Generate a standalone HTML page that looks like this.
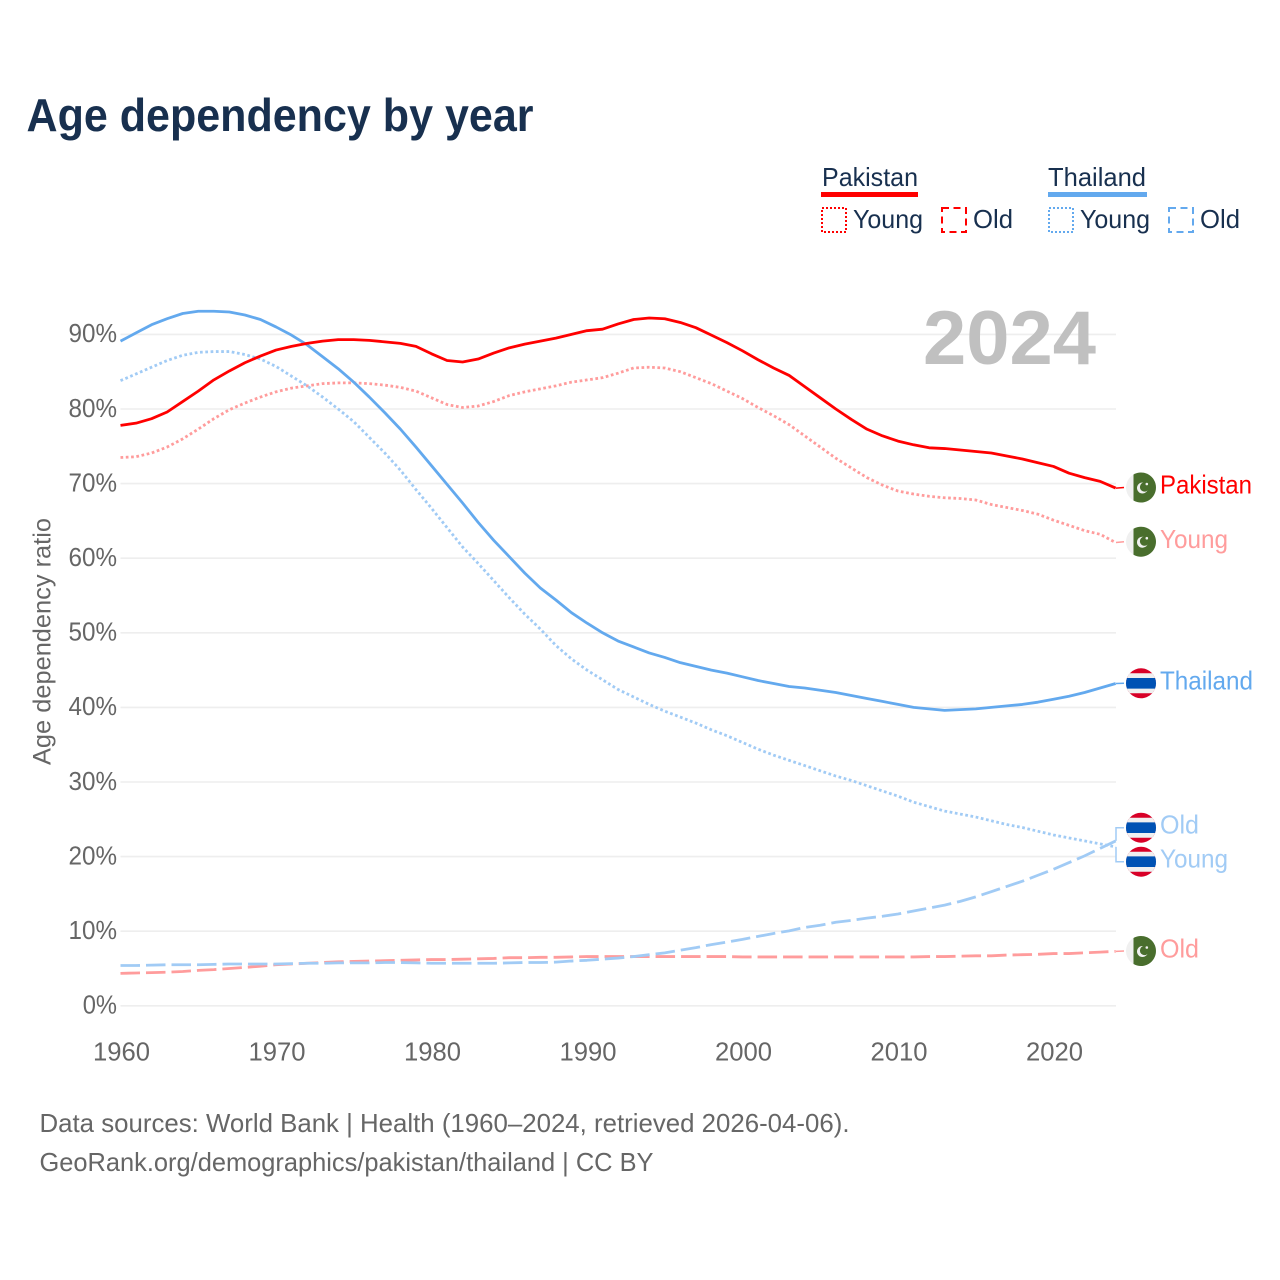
<!DOCTYPE html>
<html lang="en">
<head>
<meta charset="utf-8">
<title>Age dependency by year</title>
<style>
html,body{margin:0;padding:0;background:#fff;}
svg{display:block;}
text{font-family:"Liberation Sans",sans-serif;}
</style>
</head>
<body>
<svg id="chart" xmlns="http://www.w3.org/2000/svg" width="1280" height="1280" viewBox="0 0 1280 1280">
  <rect width="1280" height="1280" fill="#ffffff"/>
  <text x="26.5" y="131" font-size="46" font-weight="700" fill="#18304f" textLength="507" lengthAdjust="spacingAndGlyphs">Age dependency by year</text>

  <g>
    <text x="822" y="186" font-size="26" fill="#18304f" textLength="96" lengthAdjust="spacingAndGlyphs">Pakistan</text>
    <rect x="821" y="192" width="97" height="5" fill="#ff0000"/>
    <rect x="822" y="208" width="24" height="24" fill="none" stroke="#ff0000" stroke-width="2" stroke-dasharray="2 2"/>
    <text x="853" y="228" font-size="26" fill="#18304f" textLength="70" lengthAdjust="spacingAndGlyphs">Young</text>
    <rect x="942" y="208" width="24" height="24" fill="none" stroke="#ff0000" stroke-width="2" stroke-dasharray="7 4.5"/>
    <text x="973" y="228" font-size="26" fill="#18304f" textLength="40" lengthAdjust="spacingAndGlyphs">Old</text>

    <text x="1048" y="186" font-size="26" fill="#18304f" textLength="98" lengthAdjust="spacingAndGlyphs">Thailand</text>
    <rect x="1048" y="192" width="99" height="5" fill="#63a9ee"/>
    <rect x="1049" y="208" width="24" height="24" fill="none" stroke="#63a9ee" stroke-width="2" stroke-dasharray="2 2"/>
    <text x="1080" y="228" font-size="26" fill="#18304f" textLength="70" lengthAdjust="spacingAndGlyphs">Young</text>
    <rect x="1169" y="208" width="24" height="24" fill="none" stroke="#63a9ee" stroke-width="2" stroke-dasharray="7 4.5"/>
    <text x="1200" y="228" font-size="26" fill="#18304f" textLength="40" lengthAdjust="spacingAndGlyphs">Old</text>
  </g>

  <g id="grid"></g>
  <g id="yticks"></g>
  <g id="xticks"></g>
  <text transform="translate(50.5,765) rotate(-90)" font-size="25" fill="#666666" textLength="247" lengthAdjust="spacingAndGlyphs">Age dependency ratio</text>
  <text x="923" y="364" font-size="76" font-weight="700" fill="#c0c0c0" textLength="173" lengthAdjust="spacingAndGlyphs">2024</text>

  <g id="series"></g>
  <g id="connectors"></g>

  <g transform="translate(1141,487.5)">
    <circle r="15" fill="#f0f0f0"/><path d="M-7.5,-13 A15,15 0 1 1 -7.5,13 Z" fill="#496e2d"/>
    <circle cx="1.5" cy="0.5" r="5.5" fill="#f0f0f0"/><circle cx="3.5" cy="-0.5" r="4.6" fill="#496e2d"/><circle cx="5.8" cy="-3.5" r="1.3" fill="#f0f0f0"/>
  </g>
  <g transform="translate(1141,541.7)">
    <circle r="15" fill="#f0f0f0"/><path d="M-7.5,-13 A15,15 0 1 1 -7.5,13 Z" fill="#496e2d"/>
    <circle cx="1.5" cy="0.5" r="5.5" fill="#f0f0f0"/><circle cx="3.5" cy="-0.5" r="4.6" fill="#496e2d"/><circle cx="5.8" cy="-3.5" r="1.3" fill="#f0f0f0"/>
  </g>
  <g transform="translate(1141,951)">
    <circle r="15" fill="#f0f0f0"/><path d="M-7.5,-13 A15,15 0 1 1 -7.5,13 Z" fill="#496e2d"/>
    <circle cx="1.5" cy="0.5" r="5.5" fill="#f0f0f0"/><circle cx="3.5" cy="-0.5" r="4.6" fill="#496e2d"/><circle cx="5.8" cy="-3.5" r="1.3" fill="#f0f0f0"/>
  </g>
  <g transform="translate(1141,683.3)">
    <circle r="15" fill="#d80027"/><path d="M-11.18,-10 H11.18 A15,15 0 0 1 11.18,10 H-11.18 A15,15 0 0 1 -11.18,-10 Z" fill="#f0f0f0"/><path d="M-14.03,-5.3 H14.03 A15,15 0 0 1 14.03,5.3 H-14.03 A15,15 0 0 1 -14.03,-5.3 Z" fill="#0052b4"/>
  </g>
  <g transform="translate(1141,827.7)">
    <circle r="15" fill="#d80027"/><path d="M-11.18,-10 H11.18 A15,15 0 0 1 11.18,10 H-11.18 A15,15 0 0 1 -11.18,-10 Z" fill="#f0f0f0"/><path d="M-14.03,-5.3 H14.03 A15,15 0 0 1 14.03,5.3 H-14.03 A15,15 0 0 1 -14.03,-5.3 Z" fill="#0052b4"/>
  </g>
  <g transform="translate(1141,861.7)">
    <circle r="15" fill="#d80027"/><path d="M-11.18,-10 H11.18 A15,15 0 0 1 11.18,10 H-11.18 A15,15 0 0 1 -11.18,-10 Z" fill="#f0f0f0"/><path d="M-14.03,-5.3 H14.03 A15,15 0 0 1 14.03,5.3 H-14.03 A15,15 0 0 1 -14.03,-5.3 Z" fill="#0052b4"/>
  </g>

  <text x="1160" y="493.5" font-size="26" fill="#ff0000" textLength="92" lengthAdjust="spacingAndGlyphs">Pakistan</text>
  <text x="1160" y="548" font-size="26" fill="#ff9c9c" textLength="68" lengthAdjust="spacingAndGlyphs">Young</text>
  <text x="1160" y="689.5" font-size="26" fill="#63a9ee" textLength="93" lengthAdjust="spacingAndGlyphs">Thailand</text>
  <text x="1160" y="833.5" font-size="26" fill="#a1cbf5" textLength="39" lengthAdjust="spacingAndGlyphs">Old</text>
  <text x="1160" y="867.5" font-size="26" fill="#a1cbf5" textLength="68" lengthAdjust="spacingAndGlyphs">Young</text>
  <text x="1160" y="957.5" font-size="26" fill="#ff9c9c" textLength="39" lengthAdjust="spacingAndGlyphs">Old</text>

  <text x="39.5" y="1132" font-size="26" fill="#666666" textLength="810" lengthAdjust="spacingAndGlyphs">Data sources: World Bank | Health (1960–2024, retrieved 2026-04-06).</text>
  <text x="39.5" y="1171" font-size="26" fill="#666666" textLength="614" lengthAdjust="spacingAndGlyphs">GeoRank.org/demographics/pakistan/thailand | CC BY</text>
</svg>

<script>
var firstYear = 1960;
var yTickValues = [0, 10, 20, 30, 40, 50, 60, 70, 80, 90];
var xTickValues = [1960, 1970, 1980, 1990, 2000, 2010, 2020];

var pakistanTotal = [77.8,78.1,78.7,79.6,81,82.4,83.9,85.1,86.2,87.1,87.9,88.4,88.8,89.1,89.3,89.3,89.2,89,88.8,88.4,87.4,86.5,86.3,86.7,87.5,88.2,88.7,89.1,89.5,90,90.5,90.7,91.4,92,92.2,92.1,91.6,90.9,89.9,88.9,87.8,86.6,85.5,84.5,83,81.5,80,78.6,77.3,76.4,75.7,75.2,74.8,74.7,74.5,74.3,74.1,73.7,73.3,72.8,72.3,71.4,70.8,70.3,69.4];
var pakistanYoung = [73.5,73.6,74.1,74.9,76,77.3,78.7,79.9,80.8,81.6,82.3,82.8,83.1,83.4,83.5,83.5,83.4,83.2,82.9,82.4,81.5,80.6,80.2,80.4,81,81.8,82.3,82.7,83.1,83.6,83.9,84.2,84.8,85.5,85.6,85.5,85,84.2,83.4,82.4,81.4,80.2,79.1,77.9,76.4,74.9,73.4,72.1,70.8,69.8,69,68.6,68.3,68.1,68,67.8,67.2,66.8,66.4,65.9,65.1,64.4,63.7,63.2,62.1];
var pakistanOld = [4.35,4.4,4.45,4.5,4.6,4.75,4.85,5,5.15,5.3,5.5,5.6,5.7,5.8,5.9,5.95,6,6.05,6.1,6.15,6.2,6.2,6.25,6.3,6.35,6.45,6.45,6.5,6.5,6.55,6.6,6.6,6.6,6.6,6.6,6.6,6.6,6.6,6.6,6.6,6.55,6.55,6.55,6.55,6.55,6.55,6.55,6.55,6.55,6.55,6.55,6.55,6.6,6.6,6.65,6.7,6.7,6.8,6.85,6.9,7,7,7.1,7.2,7.3];
var thailandTotal = [89.1,90.2,91.3,92.1,92.8,93.1,93.1,93,92.6,92,91,89.9,88.6,87,85.4,83.6,81.6,79.5,77.3,74.9,72.4,69.9,67.4,64.8,62.4,60.2,58,56,54.4,52.7,51.3,50,48.9,48.1,47.3,46.7,46,45.5,45,44.6,44.1,43.6,43.2,42.8,42.6,42.3,42,41.6,41.2,40.8,40.4,40,39.8,39.6,39.7,39.8,40,40.2,40.4,40.7,41.1,41.5,42,42.6,43.2];
var thailandYoung = [83.8,84.7,85.6,86.5,87.2,87.6,87.7,87.7,87.3,86.7,85.7,84.4,83.1,81.6,80,78.3,76.2,74.1,71.8,69.2,66.7,64.1,61.5,59.3,57,54.7,52.5,50.5,48.3,46.5,45,43.7,42.4,41.4,40.4,39.5,38.7,37.9,37,36.2,35.3,34.4,33.6,32.9,32.2,31.5,30.8,30.2,29.5,28.8,28.1,27.3,26.7,26.1,25.7,25.3,24.8,24.3,23.9,23.4,22.9,22.5,22.1,21.7,21.3];
var thailandOld = [5.4,5.4,5.45,5.5,5.5,5.5,5.55,5.6,5.6,5.6,5.6,5.65,5.7,5.7,5.75,5.75,5.75,5.8,5.8,5.75,5.7,5.7,5.7,5.7,5.7,5.75,5.8,5.8,5.85,6,6.1,6.25,6.4,6.6,6.85,7.1,7.45,7.8,8.2,8.55,8.9,9.3,9.7,10.05,10.5,10.8,11.2,11.45,11.75,12,12.3,12.7,13.1,13.5,14,14.6,15.3,16,16.7,17.5,18.3,19.2,20.1,21.1,22.1];

var NS = 'http://www.w3.org/2000/svg';
var plotLeft = 120.5, yearStep = 15.55, zeroY = 1005.8, pctStep = 7.46, gridRight = 1116;

function xScale(year) { return plotLeft + (year - firstYear) * yearStep; }
function yScale(value) { return zeroY - value * pctStep; }

function make(tag, parent, attrs) {
  var el = document.createElementNS(NS, tag);
  for (var k in attrs) { el.setAttribute(k, attrs[k]); }
  parent.appendChild(el);
  return el;
}

var gridGroup = document.getElementById('grid');
var yTickGroup = document.getElementById('yticks');
var xTickGroup = document.getElementById('xticks');
var seriesGroup = document.getElementById('series');
var connectorGroup = document.getElementById('connectors');

yTickValues.forEach(function (v) {
  var line = make('line', gridGroup, {x1: plotLeft, x2: gridRight, y1: yScale(v), y2: yScale(v), stroke: '#eeeeee', 'stroke-width': 1.6});
  
  
  var label = String(v) + '%';
  var width = String(v).length * 14.25 + 20;
  var t = make('text', yTickGroup, {x: 117 - width, y: yScale(v) + 7.8, 'font-size': 26, fill: '#666666', textLength: width, lengthAdjust: 'spacingAndGlyphs'});
  t.textContent = label;
  
  
});

xTickValues.forEach(function (year) {
  var t = make('text', xTickGroup, {x: xScale(year) - 27.5, y: 1060.5, 'font-size': 26, fill: '#666666', textLength: 57, lengthAdjust: 'spacingAndGlyphs'});
  t.textContent = String(year);
  
  
});

function linePath(values) {
  return values.map(function (v, i) {
    return (i ? 'L' : 'M') + xScale(firstYear + i).toFixed(2) + ',' + yScale(v).toFixed(2);
  }).join(' ');
}

function drawLine(values, color, dash, name) {
  var p = make('path', seriesGroup, {d: linePath(values), fill: 'none', stroke: color, 'stroke-width': 2.8, 'stroke-linejoin': 'round'});
  if (dash) { p.setAttribute('stroke-dasharray', dash); }
  
  
}

function drawConnector(values, flagY, color, name) {
  var endY = yScale(values[values.length - 1]);
  var d;
  if (Math.abs(endY - flagY) < 4) {
    d = 'M' + gridRight + ',' + endY.toFixed(2) + ' L1124,' + flagY;
  } else {
    d = 'M' + gridRight + ',' + endY.toFixed(2) + ' V' + flagY + ' H1124';
  }
  var p = make('path', connectorGroup, {d: d, fill: 'none', stroke: color, 'stroke-width': 1.5});
  
  
}

var dotted = '2.7 2.6';
var dashed = '19.5 6';
var red = '#ff0000', paleRed = '#ff9c9c', blue = '#63a9ee', paleBlue = '#a1cbf5';

drawLine(pakistanOld, paleRed, dashed, 'pakistan-old-line');
drawLine(thailandOld, paleBlue, dashed, 'thailand-old-line');
drawLine(pakistanYoung, paleRed, dotted, 'pakistan-young-line');
drawLine(thailandYoung, paleBlue, dotted, 'thailand-young-line');
drawLine(thailandTotal, blue, null, 'thailand-total-line');
drawLine(pakistanTotal, red, null, 'pakistan-total-line');

drawConnector(pakistanTotal, 487.5, red, 'pakistan-connector');
drawConnector(pakistanYoung, 541.7, paleRed, 'pakistan-young-connector');
drawConnector(thailandTotal, 683.3, blue, 'thailand-connector');
drawConnector(thailandOld, 827.7, paleBlue, 'thailand-old-connector');
drawConnector(thailandYoung, 861.7, paleBlue, 'thailand-young-connector');
drawConnector(pakistanOld, 951, paleRed, 'pakistan-old-connector');
</script>
</body>
</html>
